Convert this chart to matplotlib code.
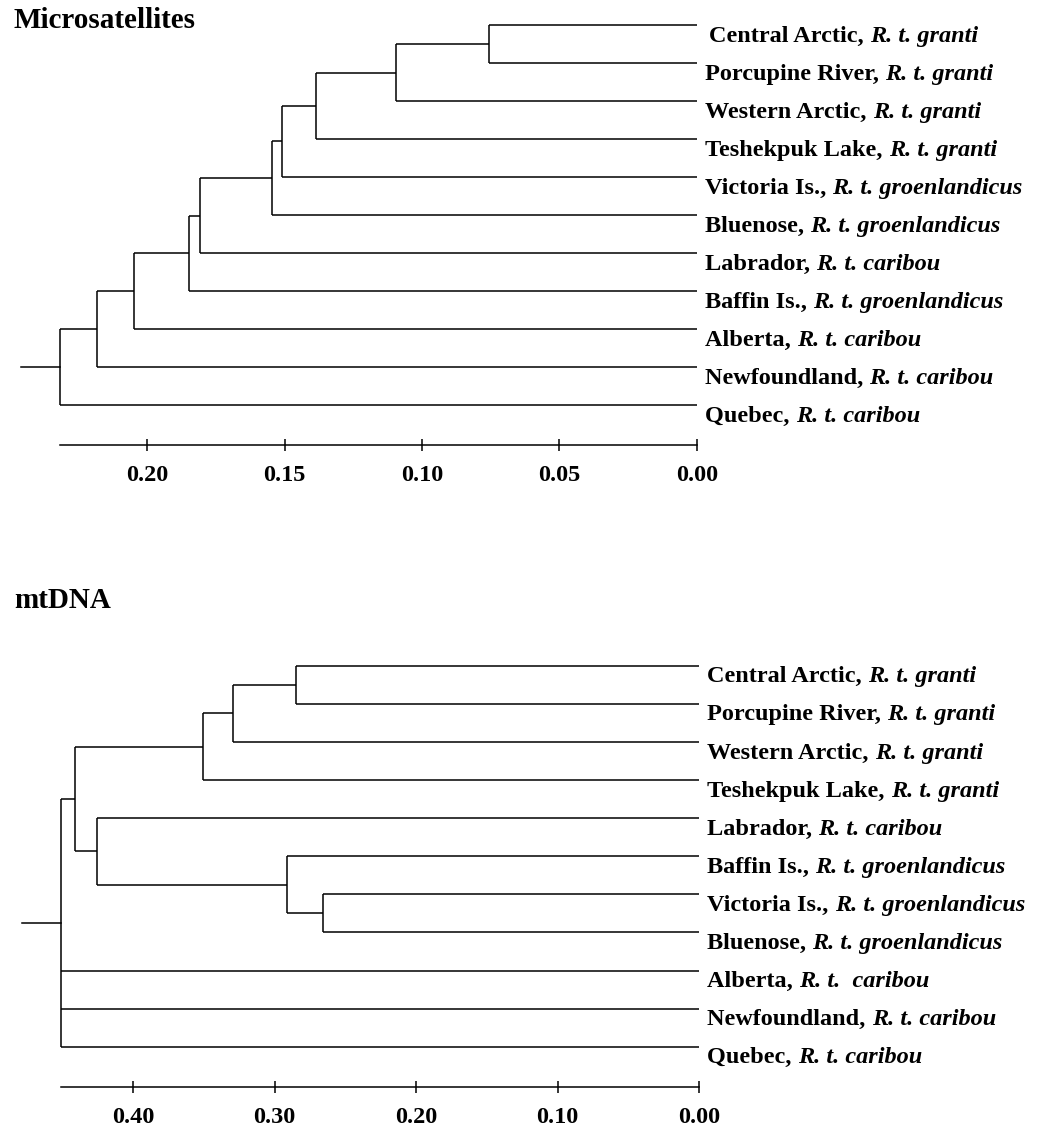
import matplotlib
matplotlib.use("Agg")
import matplotlib.pyplot as plt

SERIF = "Liberation Serif"

# ---- Microsatellites tree ----
micro_names = ["Central Arctic", "Porcupine River", "Western Arctic", "Teshekpuk Lake",
               "Victoria Is.", "Bluenose", "Labrador", "Baffin Is.",
               "Alberta", "Newfoundland", "Quebec"]
micro_species = ["R. t. granti", "R. t. granti", "R. t. granti", "R. t. granti",
                 "R. t. groenlandicus", "R. t. groenlandicus", "R. t. caribou",
                 "R. t. groenlandicus", "R. t. caribou", "R. t. caribou", "R. t. caribou"]
# merges: (children, height); leaves are 0..10, new nodes numbered from 11
micro_merges = [((0, 1), 0.0755),
                ((11, 2), 0.1095),
                ((12, 3), 0.1386),
                ((13, 4), 0.1511),
                ((14, 5), 0.1545),
                ((15, 6), 0.1808),
                ((16, 7), 0.1847),
                ((17, 8), 0.2047),
                ((18, 9), 0.2184),
                ((19, 10), 0.2318)]
micro_ticks = [0.20, 0.15, 0.10, 0.05, 0.00]

# ---- mtDNA tree ----
mt_names = ["Central Arctic", "Porcupine River", "Western Arctic", "Teshekpuk Lake",
            "Labrador", "Baffin Is.", "Victoria Is.", "Bluenose",
            "Alberta", "Newfoundland", "Quebec"]
mt_species = ["R. t. granti", "R. t. granti", "R. t. granti", "R. t. granti",
              "R. t. caribou", "R. t. groenlandicus", "R. t. groenlandicus",
              "R. t. groenlandicus", "R. t.  caribou", "R. t. caribou", "R. t. caribou"]
mt_merges = [((0, 1), 0.2851),
             ((11, 2), 0.3293),
             ((12, 3), 0.3506),
             ((6, 7), 0.2655),
             ((5, 14), 0.2915),
             ((4, 15), 0.4255),
             ((13, 16), 0.4411),
             ((17, 8, 9, 10), 0.4509)]
mt_ticks = [0.40, 0.30, 0.20, 0.10, 0.00]

W, H = 1042, 1128
fig = plt.figure(figsize=(W / 100, H / 100), dpi=100)


def draw_tree(ax, names, species, merges, ticks, stub, first_label_pad):
    n = len(names)
    ys = {i: float(i) for i in range(n)}
    xs = {i: 0.0 for i in range(n)}
    node = n
    for kids, h in merges:
        ky = [ys[k] for k in kids]
        for k in kids:
            ax.plot([xs[k], h], [ys[k], ys[k]], color="black", lw=1.1, solid_capstyle="butt")
        ax.plot([h, h], [min(ky), max(ky)], color="black", lw=1.1, solid_capstyle="butt")
        ys[node] = (ky[0] + ky[-1]) / 2
        xs[node] = h
        node += 1
    root = node - 1
    ax.plot([xs[root], xs[root] + stub], [ys[root], ys[root]], color="black", lw=1.1)

    # labels sit just under their branch line
    for i in range(n):
        pad = first_label_pad if i == 0 else 6
        t1 = ax.annotate(names[i] + ", ", xy=(0, i), xytext=(pad, -12),
                         textcoords="offset points", ha="left", va="baseline",
                         fontsize=17.5, fontweight="bold", family=SERIF,
                         annotation_clip=False)
        ax.annotate(species[i], xy=(1, 0), xycoords=t1, ha="left", va="bottom",
                    fontsize=17.5, fontweight="bold", fontstyle="italic", family=SERIF,
                    annotation_clip=False)

    for s in ["top", "left", "right"]:
        ax.spines[s].set_visible(False)
    ax.spines["bottom"].set_bounds(0, xs[root])
    ax.spines["bottom"].set_linewidth(1.1)
    ax.set_yticks([])
    ax.set_xticks(ticks)
    ax.set_xticklabels(["%.2f" % t for t in ticks], fontsize=17.5,
                       fontweight="bold", family=SERIF)
    ax.tick_params(axis="x", direction="inout", length=9, width=1.1, pad=10)
    ax.patch.set_visible(False)


# top panel: 0.20 at px 147.3, 0.00 at px 696.7; leaf 0 at y 25, spacing 38; axis at y 445
ax1 = fig.add_axes([0, 1 - 445 / H, 696.7 / W, 445 / H])
ax1.set_xlim(0.20 + 147.3 / 137.35 * 0.05, 0)
ax1.set_ylim((445 - 25) / 38.0, -25 / 38.0)
draw_tree(ax1, micro_names, micro_species, micro_merges, micro_ticks, 0.0143, 9)

# bottom panel: 0.40 at px 133, 0.00 at px 699; leaf 0 at y 665.7, spacing 38.1; axis at y 1087.3
ax2 = fig.add_axes([0, 1 - 1087.3 / H, 699 / W, (1087.3 - 620) / H])
ax2.set_xlim(0.40 + 133 / 1415.0, 0)
ax2.set_ylim((1087.3 - 665.7) / 38.1, (620 - 665.7) / 38.1)
draw_tree(ax2, mt_names, mt_species, mt_merges, mt_ticks, 0.0278, 6)

fig.text(13 / W, 1 - 21 / H, "Microsatellites", fontsize=21, fontweight="bold",
         family=SERIF, ha="left", va="center")
fig.text(14 / W, 1 - 601 / H, "mtDNA", fontsize=21, fontweight="bold",
         family=SERIF, ha="left", va="center")

fig.savefig("out.png", dpi=100)
